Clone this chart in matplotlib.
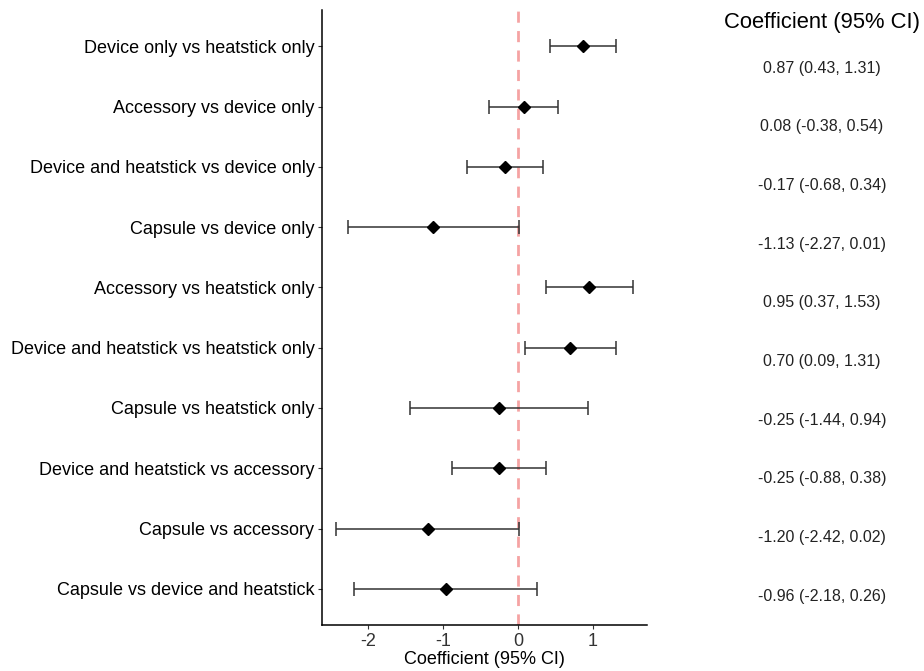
import matplotlib.pyplot as plt

plt.rcParams['font.family'] = ['Liberation Sans', 'DejaVu Sans']

# comparisons, top to bottom
labels = [
    "Device only vs heatstick only",
    "Accessory vs device only",
    "Device and heatstick vs device only",
    "Capsule vs device only",
    "Accessory vs heatstick only",
    "Device and heatstick vs heatstick only",
    "Capsule vs heatstick only",
    "Device and heatstick vs accessory",
    "Capsule vs accessory",
    "Capsule vs device and heatstick",
]
coef = [0.87, 0.08, -0.17, -1.13, 0.95, 0.70, -0.25, -0.25, -1.20, -0.96]
lower = [0.43, -0.38, -0.68, -2.27, 0.37, 0.09, -1.44, -0.88, -2.42, -2.18]
upper = [1.31, 0.54, 0.34, 0.01, 1.53, 1.31, 0.94, 0.38, 0.02, 0.26]

fig = plt.figure(figsize=(9.24, 6.71), dpi=100)
ax = fig.add_axes([0.3485, 0.0686, 0.3517, 0.9164])

n = len(labels)
ypos = [n - i for i in range(n)]
xerr = [[c - l for c, l in zip(coef, lower)], [u - c for c, u in zip(coef, upper)]]

ax.axvline(0, color='#f5a3a3', linestyle=(0, (4, 3)), linewidth=2, zorder=1)
ax.errorbar(coef, ypos, xerr=xerr, fmt='none', ecolor='#333333',
            elinewidth=1.1, capsize=5, capthick=1.1, zorder=2)
ax.plot(coef, ypos, 'D', color='black', markersize=6.5, zorder=3)

ax.set_xlim(-2.61, 1.72)
ax.set_ylim(0.4, 10.6)
ax.set_yticks(ypos)
ax.set_yticklabels(labels, fontsize=13, color='black')
ax.set_xticks([-2, -1, 0, 1])
ax.set_xticklabels(['-2', '-1', '0', '1'], fontsize=13, color='#333333')
ax.set_xlabel("Coefficient (95% CI)", fontsize=13, labelpad=1)
ax.tick_params(axis='both', length=3, color='#333333', pad=2.5)
for side in ['top', 'right']:
    ax.spines[side].set_visible(False)
ax.spines['left'].set_linewidth(1.1)
ax.spines['bottom'].set_linewidth(1.1)

# right text column
fig.text(0.8896, 0.967, "Coefficient (95% CI)", fontsize=15.8, ha='center', va='center')
for i, (c, l, u) in enumerate(zip(coef, lower, upper)):
    y_px = 68 + 58.7 * i
    fig.text(0.8896, 1 - y_px / 671, f"{c:.2f} ({l:.2f}, {u:.2f})",
             fontsize=11.5, ha='center', va='center', color='#222222')

fig.savefig("out.png", dpi=100)
